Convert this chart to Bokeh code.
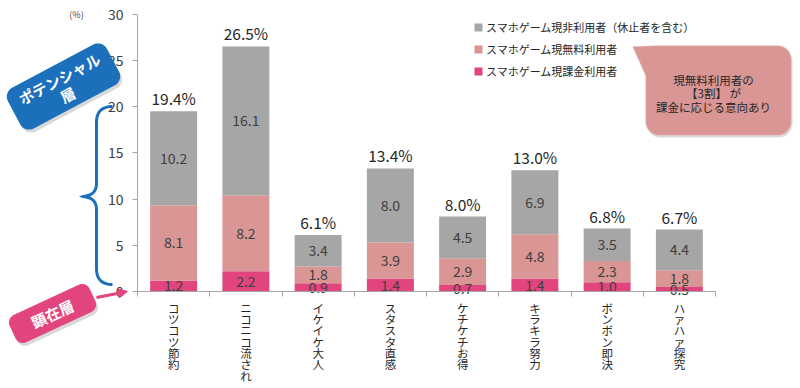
import math
import numpy as np
from bokeh.plotting import figure
from bokeh.models import (ColumnDataSource, Range1d, FixedTicker, Legend, LegendItem,
                          PolyAnnotation, Label, Arrow, NormalHead)
from bokeh.core.properties import value
from bokeh.embed import file_html
from bokeh.resources import INLINE

# ---------------- data ----------------
categories = ["コツコツ節約", "ニコニコ流され", "イケイケ大人", "スタスタ直感",
              "ケチケチお得", "キラキラ努力", "ボンボン即決", "ハァハァ探究"]
paid_users = [1.2, 2.2, 0.9, 1.4, 0.7, 1.4, 1.0, 0.5]      # スマホゲーム現課金利用者
free_users = [8.1, 8.2, 1.8, 3.9, 2.9, 4.8, 2.3, 1.8]      # スマホゲーム現無料利用者
non_users = [10.2, 16.1, 3.4, 8.0, 4.5, 6.9, 3.5, 4.4]     # スマホゲーム現非利用者
totals = [19.4, 26.5, 6.1, 13.4, 8.0, 13.0, 6.8, 6.7]
y_ticks = [0, 5, 10, 15, 20, 25, 30]
series_names = ["スマホゲーム現非利用者（休止者を含む）",
                "スマホゲーム現無料利用者",
                "スマホゲーム現課金利用者"]
bubble_text = "現無料利用者の\n【3割】 が\n課金に応じる意向あり"

# ---------------- style ----------------
FONT = "Noto Sans CJK JP"
C_NON = "#a6a6a6"
C_FREE = "#d99694"
C_PAID = "#e2457d"
C_BLUE = "#1b6fbb"
TXT = "#404040"
AX = "#a6a6a6"

W, H = 800, 388
OFF = 0                                # figure's page offset (bokeh page has no body margin)
NCAT = len(categories)
YMAX = 30
AX_LEFT, AX_RIGHT = 137, 715           # page px of x=0 and x=NCAT
AX_BOTTOM, AX_TOP = 291, 13.5          # page px of y=0 and y=YMAX
SX = (AX_RIGHT - AX_LEFT) / NCAT
SY = (AX_BOTTOM - AX_TOP) / YMAX


def X(px):  # page px -> data x
    return (px - AX_LEFT) / SX


def Y(py):  # page px -> data y
    return (AX_BOTTOM - py) / SY


p = figure(width=W, height=H,
           x_range=Range1d(X(OFF), X(OFF + W)), y_range=Range1d(Y(OFF + H), Y(OFF)),
           output_backend="svg", toolbar_location=None,
           min_border_left=0, min_border_right=0, min_border_top=0, min_border_bottom=0)
p.outline_line_color = None
p.xgrid.visible = False
p.ygrid.visible = False
p.background_fill_color = "white"
p.border_fill_color = "white"

xs = [i + 0.5 for i in range(NCAT)]
src = ColumnDataSource(dict(x=xs, paid=paid_users, free=free_users, non=non_users))
rs = p.vbar_stack(["paid", "free", "non"], x="x", width=0.65, source=src,
                  fill_color=[C_PAID, C_FREE, C_NON], line_color=None)

# segment value labels
lx, ly, lt = [], [], []
for i in range(NCAT):
    base = 0.0
    for v in (paid_users[i], free_users[i], non_users[i]):
        lx.append(xs[i]); ly.append(base + v / 2); lt.append(f"{v:.1f}")
        base += v
p.text(x="x", y="y", text="t", source=ColumnDataSource(dict(x=lx, y=ly, t=lt)),
       text_font=value(FONT), text_font_size=value("14px"), text_color=TXT,
       text_align="center", text_baseline="middle")

# totals above bars
tops = [paid_users[i] + free_users[i] + non_users[i] for i in range(NCAT)]
p.text(x="x", y="y", text="t",
       source=ColumnDataSource(dict(x=xs, y=tops, t=[f"{t:.1f}%" for t in totals])),
       text_font=value(FONT), text_font_size=value("15.5px"), text_color="#262626",
       text_align="center", text_baseline="bottom", y_offset=-2)

# axes (placed at the data origin)
p.yaxis.fixed_location = 0
p.yaxis.bounds = (0, YMAX)
p.yaxis.ticker = FixedTicker(ticks=y_ticks)
p.yaxis.axis_line_color = AX
p.yaxis.major_tick_line_color = AX
p.yaxis.major_tick_out = 5
p.yaxis.major_tick_in = 0
p.yaxis.minor_tick_line_color = None
p.yaxis.major_label_text_font = FONT
p.yaxis.major_label_text_font_size = "14px"
p.yaxis.major_label_text_color = "#404040"
p.yaxis.major_label_standoff = 9

p.xaxis.fixed_location = 0
p.xaxis.bounds = (0, NCAT)
p.xaxis.ticker = FixedTicker(ticks=xs, minor_ticks=list(range(NCAT + 1)))
p.xaxis.major_label_overrides = {xs[i]: "\n".join(c) for i, c in enumerate(categories)}
p.xaxis.axis_line_color = AX
p.xaxis.major_tick_line_color = None
p.xaxis.major_tick_out = 0
p.xaxis.major_tick_in = 0
p.xaxis.minor_tick_line_color = AX
p.xaxis.minor_tick_out = 5
p.xaxis.minor_tick_in = 0
p.xaxis.major_label_text_font = FONT
p.xaxis.major_label_text_font_size = "11.5px"
p.xaxis.major_label_text_color = "#262626"
p.xaxis.major_label_text_line_height = 0.71
p.xaxis.major_label_standoff = 3

# legend
legend = Legend(items=[LegendItem(label=series_names[0], renderers=[rs[2]]),
                       LegendItem(label=series_names[1], renderers=[rs[1]]),
                       LegendItem(label=series_names[2], renderers=[rs[0]])],
                location=(473, 309), glyph_width=10, glyph_height=10, label_height=16,
                spacing=6, padding=0, margin=0, border_line_color=None,
                background_fill_alpha=0, label_standoff=3,
                label_text_font=FONT, label_text_font_size="11px",
                label_text_color="#262626")
p.add_layout(legend)

p.add_layout(Label(x=X(76), y=Y(14), text="(%)", text_font=FONT, text_font_size="9px",
                   text_color="#404040", text_align="center", text_baseline="middle"))


# ---------------- decorations ----------------
def to_data(pts):
    return [X(a) for a, b in pts], [Y(b) for a, b in pts]


def rrect(cx, cy, w, h, r, ang, n=8):
    loc = []
    for ccx, ccy, a0 in [(w / 2 - r, h / 2 - r, 0), (-(w / 2 - r), h / 2 - r, 90),
                         (-(w / 2 - r), -(h / 2 - r), 180), (w / 2 - r, -(h / 2 - r), 270)]:
        for k in range(n + 1):
            a = math.radians(a0 + 90 * k / n)
            loc.append((ccx + r * math.cos(a), ccy + r * math.sin(a)))
    th = math.radians(ang)
    return [(cx + u * math.cos(th) - v * math.sin(th), cy - (u * math.sin(th) + v * math.cos(th)))
            for u, v in loc]


def poly(pts, color, alpha=1.0, line_color=None, lw=1, dx=0, dy=0):
    xs_, ys_ = to_data([(a + dx, b + dy) for a, b in pts])
    p.add_layout(PolyAnnotation(xs=xs_, ys=ys_, fill_color=color, fill_alpha=alpha,
                                line_color=line_color, line_width=lw))


# blue "potential" box
blue = rrect(63, 86, 112, 46, 10, 28)
poly(blue, "#7f7f7f", 0.3, dx=2, dy=3)
poly(blue, C_BLUE)
p.add_layout(Label(x=X(63), y=Y(86), text="ポテンシャル\n層", angle=28, angle_units="deg",
                   text_font=FONT, text_font_size="15px", text_font_style="bold",
                   text_color="white", text_align="center", text_baseline="middle",
                   text_line_height=0.85))

# pink "actual" box
pink = rrect(52, 313, 88, 30, 8, 25)
poly(pink, "#7f7f7f", 0.3, dx=2, dy=3)
poly(pink, C_PAID)
p.add_layout(Label(x=X(52), y=Y(313), text="顕在層", angle=25, angle_units="deg",
                   text_font=FONT, text_font_size="15px", text_font_style="bold",
                   text_color="white", text_align="center", text_baseline="middle"))

# pink arrow to 0
p.add_layout(Arrow(x_start=X(96), y_start=Y(297), x_end=X(127), y_end=Y(291),
                   line_color=C_PAID, line_width=3,
                   end=NormalHead(size=9, fill_color=C_PAID, line_color=C_PAID)))


# brace
def qbez(p0, p1, p2, n=14):
    t = np.linspace(0, 1, n)[:, None]
    return (1 - t) ** 2 * np.array(p0) + 2 * (1 - t) * t * np.array(p1) + t ** 2 * np.array(p2)


segs = [qbez((112, 106), (96, 106), (96, 122)),
        np.array([(96, 150.0), (96, 183)]),
        qbez((96, 183), (96, 196), (80, 196)),
        qbez((80, 196), (96, 196), (96, 209)),
        np.array([(96, 240.0), (96, 268)]),
        qbez((96, 268), (96, 284), (112, 284))]
path = [segs[0]]
for s in segs[1:]:
    path.append(s[1:] if np.allclose(s[0], path[-1][-1]) else s)
path = np.vstack(path)
tan = np.gradient(path, axis=0)
tan /= np.linalg.norm(tan, axis=1)[:, None]
nor = np.stack([-tan[:, 1], tan[:, 0]], axis=1)
hw = 1.5
outline = np.vstack([path + nor * hw, (path - nor * hw)[::-1]])
poly([tuple(q) for q in outline], C_BLUE)

# speech bubble
L, R, T, B, r = 645, 791, 45, 135, 14
bub = [(657, T)]
for cx, cy, a0, a1 in [(R - r, T + r, -90, 0), (R - r, B - r, 0, 90), (L + r, B - r, 90, 180)]:
    for k in range(9):
        a = math.radians(a0 + (a1 - a0) * k / 8)
        bub.append((cx + r * math.cos(a), cy + r * math.sin(a)))
bub += [(L, 75), (632, 46)]
poly(bub, "#7f7f7f", 0.3, dx=1, dy=2)
poly(bub, C_FREE, line_color="#eeeeee", lw=1.5)
p.add_layout(Label(x=X(713), y=Y(93), text=bubble_text, text_font=FONT, text_font_size="11.5px",
                   text_color="#262626", text_align="center", text_baseline="middle",
                   text_line_height=0.84))

open("out.html", "w").write(file_html(p, INLINE))
